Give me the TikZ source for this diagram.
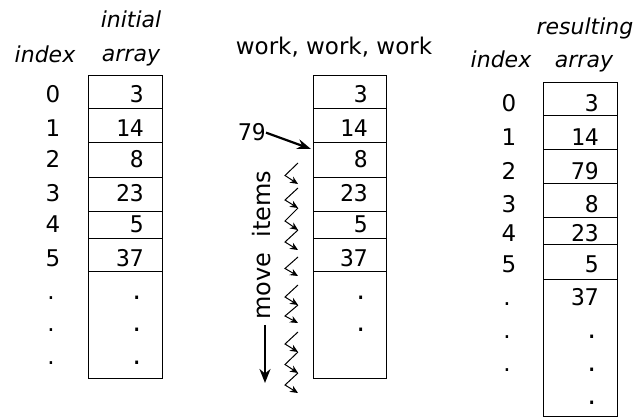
\documentclass[tikz,border=0pt]{standalone}
\usepackage{fontspec}
\setmainfont{DejaVu Sans}
\setmonofont{DejaVu Sans Mono}
\usetikzlibrary{arrows.meta}

\begin{document}
\begin{tikzpicture}[x=1pt, y=-1pt,
    cell/.style={line width=0.8pt},
    val/.style={anchor=base east, inner sep=0pt, font=\fontsize{23}{23}\selectfont\ttfamily},
    idx/.style={anchor=base, inner sep=0pt, font=\fontsize{23}{23}\selectfont},
    head/.style={anchor=base, inner sep=0pt, font=\fontsize{22}{22}\selectfont\itshape},
    movearrow/.style={-{Stealth[length=8pt,width=7pt]}, line width=1pt}]
    \useasboundingbox (0,0) rectangle (641,417);

    % LEFT: initial array
    \begin{scope}
        \node[head] (lhead) at (131,28) {initial};
        \node[head] (larr) at (131,62) {array};
        \node[head] (lidx) at (45,63) {index};

        \draw[cell] (88,75) rectangle (162,378);
        \foreach \y in {108,142,177,211,238,271}
            \draw[cell] (88,\y) -- (163,\y);

        \foreach \b [count=\i from 0] in {103,137,168,202,233,267}
            \node[idx] (li\i) at (53,\b) {\i};
        \foreach \v/\b [count=\i] in {3/103,14/137,8/168,23/202,5/233,37/267}
            \node[val] (lv\i) at (144,\b) {\v};
        \foreach \b [count=\i] in {300,332,365} {
            \node[idx] (lid\i) at (51,\b) {.};
            \node[val] (lvd\i) at (144,\b) {.};
        }
    \end{scope}

    % MIDDLE: work, work, work
    \begin{scope}
        \node[anchor=base, inner sep=0pt, font=\fontsize{23}{23}\selectfont] (work) at (334,55) {work, work, work};

        \draw[cell] (313,75) rectangle (386,378);
        \foreach \y in {108,142,177,211,238,271}
            \draw[cell] (313,\y) -- (387,\y);

        \foreach \v/\b [count=\i] in {3/103,14/137,8/168,23/202,5/233,37/267}
            \node[val] (mv\i) at (368,\b) {\v};
        \foreach \b [count=\i] in {300,332}
            \node[val] (mvd\i) at (368,\b) {.};

        % new item goes in
        \node[val] (new) at (266,141) {79};
        \coordinate (slot) at (311,149);
        \draw[-{Stealth[length=14pt,width=10pt]}, line width=2.2pt] (new.east) -- (slot);

        % items move down one place
        \foreach \t/\h in {163/184,188/208,208/230,230/250,257/276,285/305,305/323,332/352,352/373,373/393}
            \draw[movearrow] (298,\t) -- (285,{(\t+\h)/2+2}) -- (298,\h);

        \node[rotate=90, inner sep=0pt, font=\fontsize{24}{24}\selectfont] (move) at (262,245) {move\ \ items};
        \coordinate (down) at (265,383);
        \draw[-{Stealth[length=14pt,width=11pt]}, line width=2.2pt] (265,325) -- (down);
    \end{scope}

    % RIGHT: resulting array
    \begin{scope}
        \node[head] (rhead) at (585,35) {resulting};
        \node[head] (rarr) at (584,68) {array};
        \node[head] (ridx) at (501,68) {index};

        \draw[cell] (543,82) rectangle (617,416);
        \foreach \y in {115,149,183,217,244,279}
            \draw[cell] (543,\y) -- (618,\y);

        \foreach \b [count=\i from 0] in {112,146,180,213,242,273}
            \node[idx] (ri\i) at (509,\b) {\i};
        \foreach \v/\b [count=\i] in {3/112,14/146,79/180,8/213,23/242,5/273,37/306}
            \node[val] (rv\i) at (599,\b) {\v};
        \foreach \b [count=\i] in {306,339,371}
            \node[idx] (rid\i) at (507,\b) {.};
        \foreach \b [count=\i] in {339,371,404}
            \node[val] (rvd\i) at (599,\b) {.};
    \end{scope}
\end{tikzpicture}
\end{document}
